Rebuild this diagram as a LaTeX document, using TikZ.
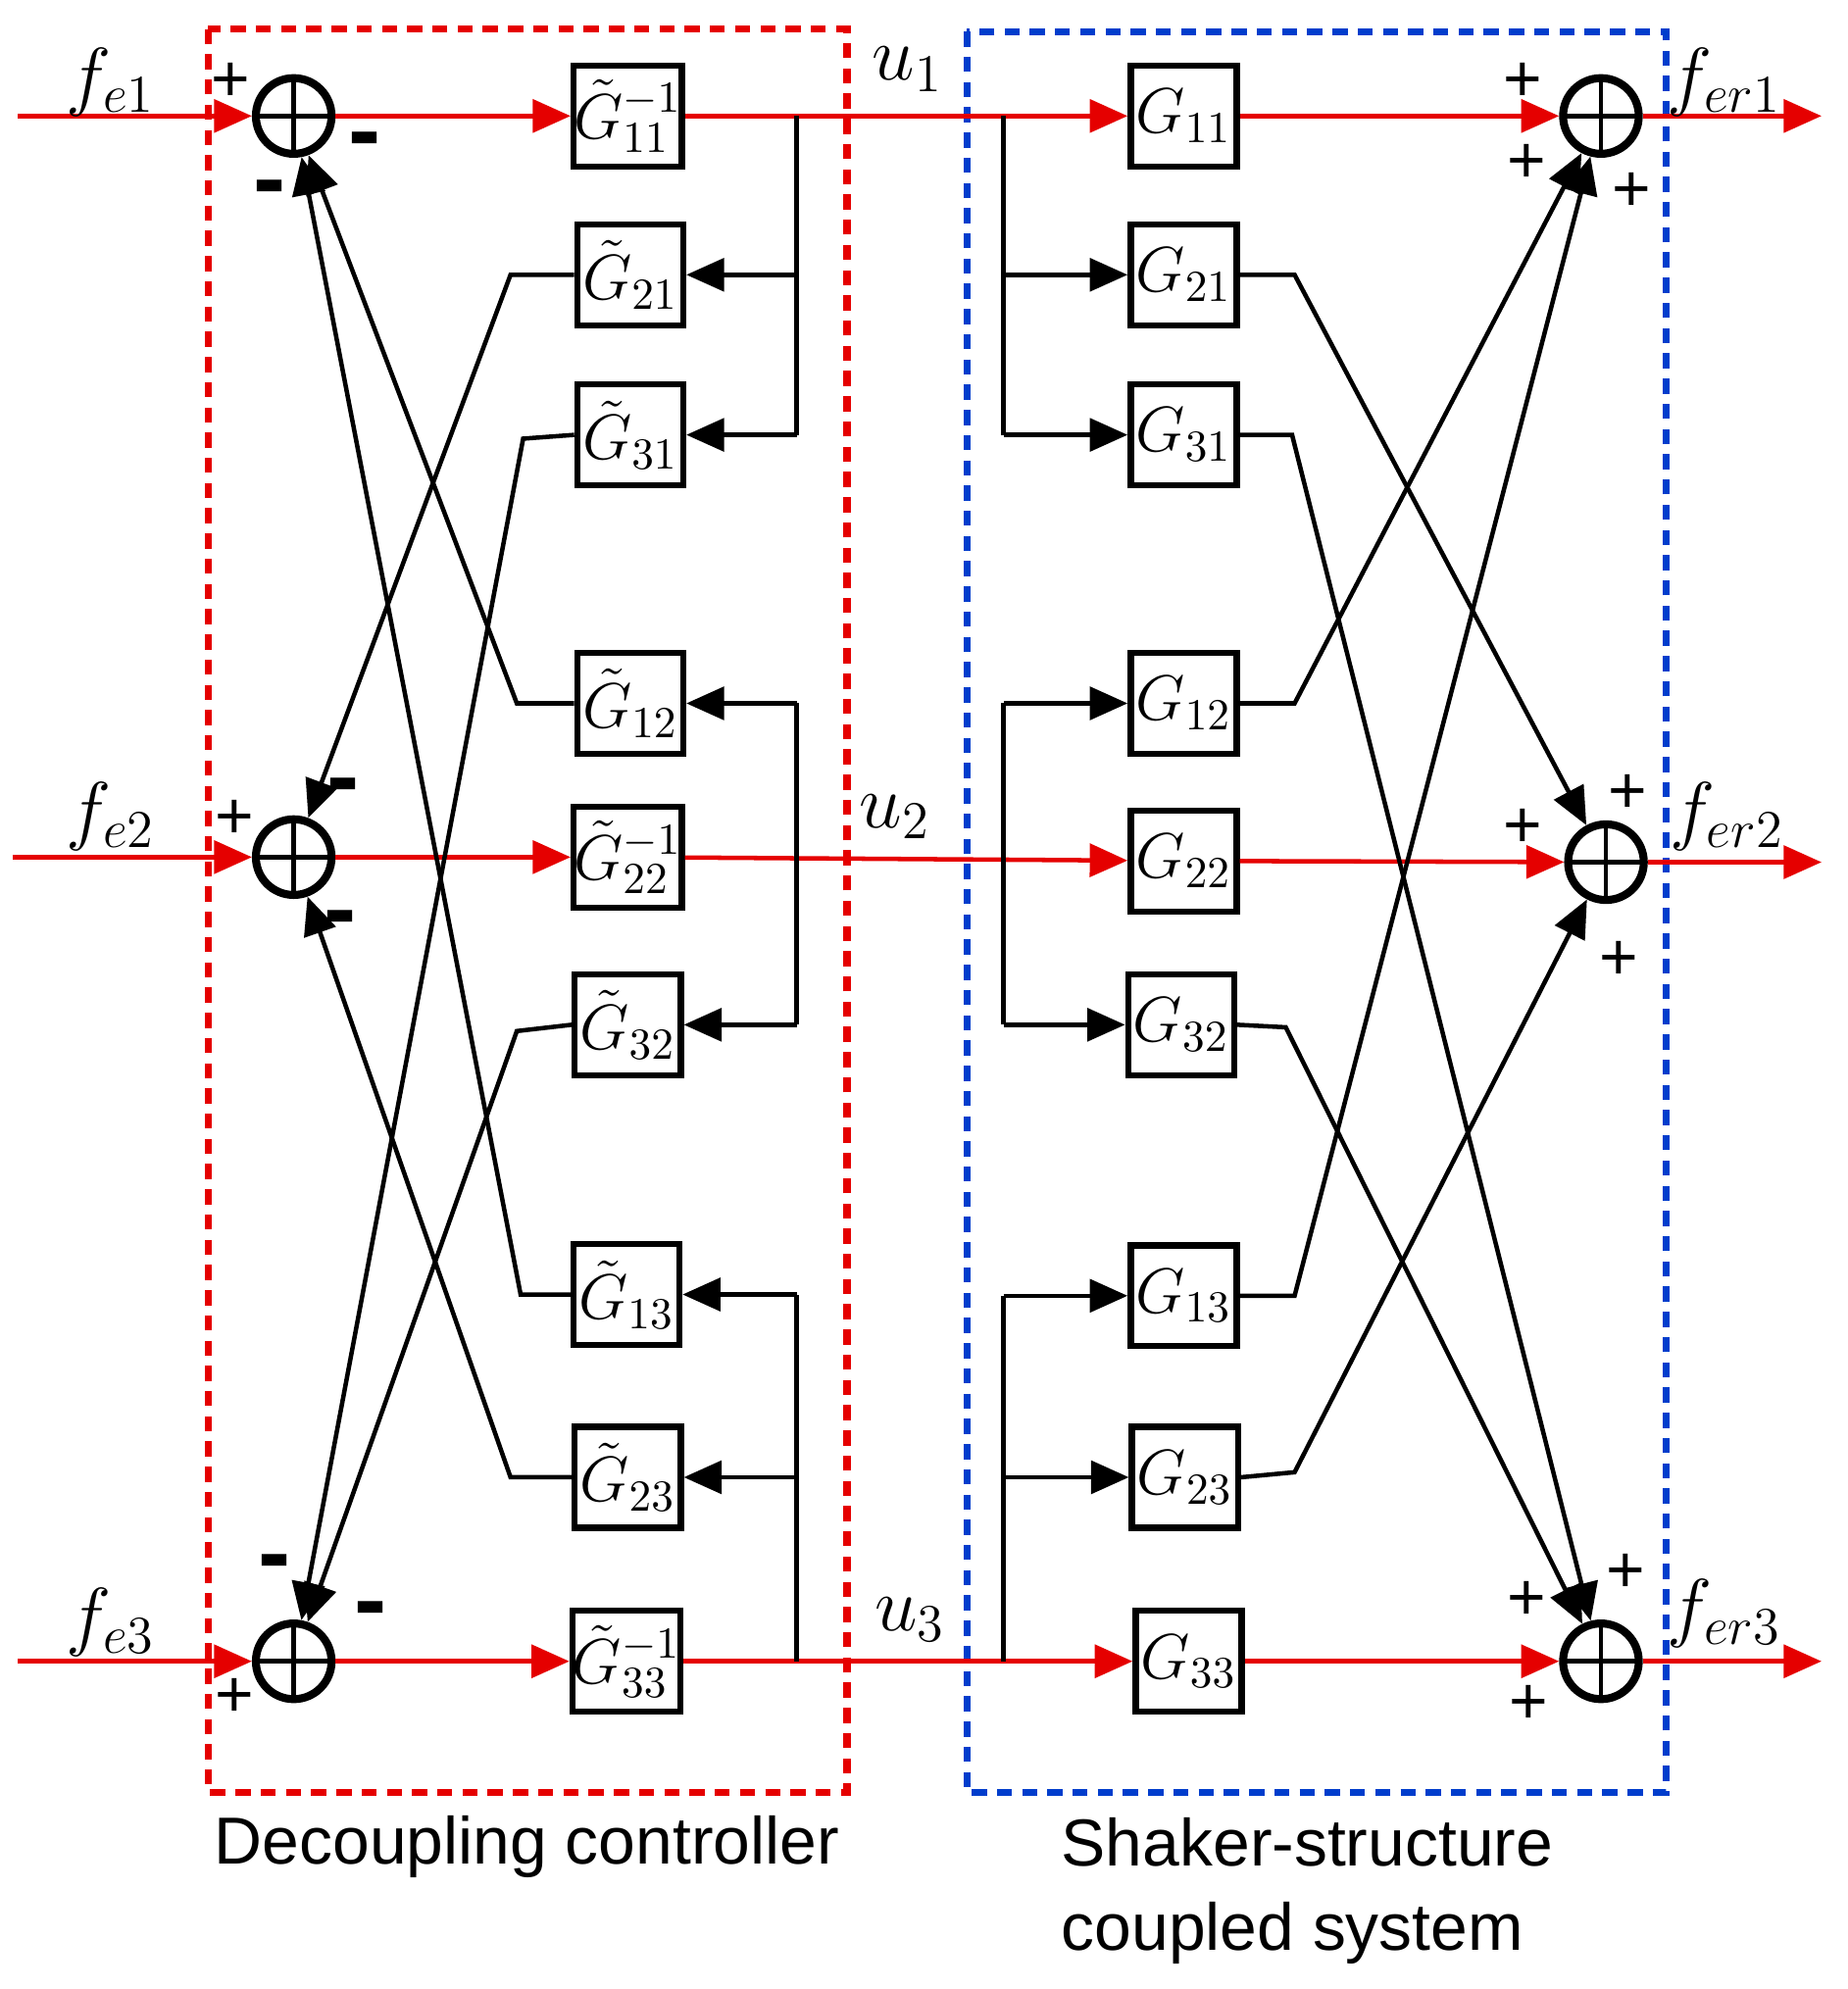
\documentclass[tikz,border=0pt]{standalone}
\usepackage{fontspec}
\setmainfont{Liberation Sans}
\usetikzlibrary{arrows.meta}
\begin{document}
\begin{tikzpicture}[x=0.01cm,y=-0.01cm,
 sum/.style={circle,draw,line width=1.8pt,minimum size=0.6cm,inner sep=0pt,
   path picture={\draw[line width=1pt] (path picture bounding box.north)--(path picture bounding box.south) (path picture bounding box.west)--(path picture bounding box.east);}},
 blk/.style={draw,line width=1.4pt,minimum width=0.84cm,minimum height=0.8cm,inner sep=0pt,font=\fontsize{14}{16}\selectfont},
 rl/.style={draw=red!90!black,line width=1pt},
 ra/.style={rl,-{Triangle[length=0.3cm,width=0.26cm]}},
 bl/.style={draw,line width=1pt},
 ba/.style={bl,-{Triangle[length=0.3cm,width=0.26cm]}},
 lab/.style={font=\fontsize{17}{20}\selectfont},
 sg/.style={font=\fontsize{15}{18}\selectfont},
 mi/.style={font=\fontsize{22}{24}\bfseries\selectfont}]
\useasboundingbox (0,0) rectangle (1466,1578);
% frames
\draw[red!90!black,line width=1.6pt,dash pattern=on 0.12cm off 0.08cm] (165,23) rectangle (672,1422);
\draw[blue!70!cyan!80!black,line width=1.6pt,dash pattern=on 0.12cm off 0.08cm] (767,25) rectangle (1322,1422);
% summers
\node[sum] (s1) at (233,92) {};
\node[sum] (s2) at (233,680) {};
\node[sum] (s3) at (233,1318) {};
\node[sum] (r1) at (1270,92) {};
\node[sum] (r2) at (1274,684) {};
\node[sum] (r3) at (1270,1318) {};
% left blocks
\node[blk] (c11) at (498,92) {$\tilde G_{11}^{-1}$};
\node[blk] (c21) at (500,218) {$\tilde G_{21}$};
\node[blk] (c31) at (500,345) {$\tilde G_{31}$};
\node[blk] (c12) at (500,558) {$\tilde G_{12}$};
\node[blk] (c22) at (498,680) {$\tilde G_{22}^{-1}$};
\node[blk] (c32) at (498,813) {$\tilde G_{32}$};
\node[blk] (c13) at (497,1027) {$\tilde G_{13}$};
\node[blk] (c23) at (498,1172) {$\tilde G_{23}$};
\node[blk] (c33) at (497,1318) {$\tilde G_{33}^{-1}$};
% right blocks
\node[blk] (g11) at (939,92) {$G_{11}$};
\node[blk] (g21) at (939,218) {$G_{21}$};
\node[blk] (g31) at (939,345) {$G_{31}$};
\node[blk] (g12) at (939,558) {$G_{12}$};
\node[blk] (g22) at (939,683) {$G_{22}$};
\node[blk] (g32) at (937,813) {$G_{32}$};
\node[blk] (g13) at (939,1028) {$G_{13}$};
\node[blk] (g23) at (940,1172) {$G_{23}$};
\node[blk] (g33) at (943,1318) {$G_{33}$};
% inputs
\coordinate (i1) at (14,92); \coordinate (i2) at (10,680); \coordinate (i3) at (14,1318);
\coordinate (o1) at (1445,92); \coordinate (o2) at (1445,684); \coordinate (o3) at (1445,1318);
\draw[ra] (i1)--(s1); \draw[ra] (i2)--(s2); \draw[ra] (i3)--(s3);
\draw[ra] (s1)--(c11); \draw[ra] (s2)--(c22); \draw[ra] (s3)--(c33);
\draw[ra] (c11)--(g11); \draw[ra] (c22)--(g22); \draw[ra] (c33)--(g33);
\draw[ra] (g11)--(r1); \draw[ra] (g22)--(r2); \draw[ra] (g33)--(r3);
\draw[ra] (r1)--(o1); \draw[ra] (r2)--(o2); \draw[ra] (r3)--(o3);
% left branches
\coordinate (a1) at (632,92); \coordinate (a2) at (632,680); \coordinate (a3) at (632,1318);
\draw[bl] (a1)--(632,345);
\draw[ba] (632,218)--(c21); \draw[ba] (632,345)--(c31);
\draw[bl] (632,558)--(632,813);
\draw[ba] (632,558)--(c12); \draw[ba] (632,813)--(c32);
\draw[bl] (a3)--(632,1027);
\draw[ba] (632,1027)--(c13); \draw[ba] (632,1172)--(c23);
% left cross connections
\draw[ba] (c21.west)--(405,218)--(s2);
\draw[ba] (c31.west)--(415,348)--(s3);
\draw[ba] (c12.west)--(410,558)--(s1);
\draw[ba] (c32.west)--(410,818)--(s3);
\draw[ba] (c13.west)--(413,1027)--(s1);
\draw[ba] (c23.west)--(405,1172)--(s2);
% right branches
\draw[bl] (796,92)--(796,345);
\draw[ba] (796,218)--(g21); \draw[ba] (796,345)--(g31);
\draw[bl] (796,558)--(796,813);
\draw[ba] (796,558)--(g12); \draw[ba] (796,813)--(g32);
\draw[bl] (796,1318)--(796,1028);
\draw[ba] (796,1028)--(g13); \draw[ba] (796,1172)--(g23);
% right cross connections
\draw[ba] (g21.east)--(1027,218)--(r2);
\draw[ba] (g31.east)--(1025,345)--(r3);
\draw[ba] (g12.east)--(1027,558)--(r1);
\draw[ba] (g32.east)--(1020,815)--(r3);
\draw[ba] (g13.east)--(1027,1028)--(r1);
\draw[ba] (g23.east)--(1027,1168)--(r2);
% labels
\node[lab] (tfe1) at (88,65) {$f_{e1}$};
\node[lab] (tfe2) at (88,648) {$f_{e2}$};
\node[lab] (tfe3) at (88,1287) {$f_{e3}$};
\node[lab] (tu1) at (720,55) {$u_1$};
\node[lab] (tu2) at (710,648) {$u_2$};
\node[lab] (tu3) at (722,1285) {$u_3$};
\node[lab] (tf1) at (1368,65) {$f_{er1}$};
\node[lab] (tf2) at (1370,648) {$f_{er2}$};
\node[lab] (tf3) at (1368,1280) {$f_{er3}$};
% signs
\node[sg] at (183,65) {+}; \node[mi] at (289,117) {-}; \node[mi] at (214,155) {-};
\node[sg] at (186,650) {+}; \node[mi] at (272,630) {-}; \node[mi] at (270,735) {-};
\node[mi] at (218,1246) {-}; \node[mi] at (294,1283) {-}; \node[sg] at (186,1347) {+};
\node[sg] at (1208,65) {+}; \node[sg] at (1211,130) {+}; \node[sg] at (1294,152) {+};
\node[sg] at (1291,630) {+}; \node[sg] at (1208,657) {+}; \node[sg] at (1284,762) {+};
\node[sg] at (1290,1248) {+}; \node[sg] at (1211,1270) {+}; \node[sg] at (1213,1352) {+};
% captions
\node[font=\fontsize{15}{19}\selectfont] (cap1) at (418,1465) {Decoupling controller};
\node[font=\fontsize{15}{19}\selectfont,align=left] (cap2) at (1037,1500) {Shaker-structure\\coupled system};
\end{tikzpicture}
\end{document}
